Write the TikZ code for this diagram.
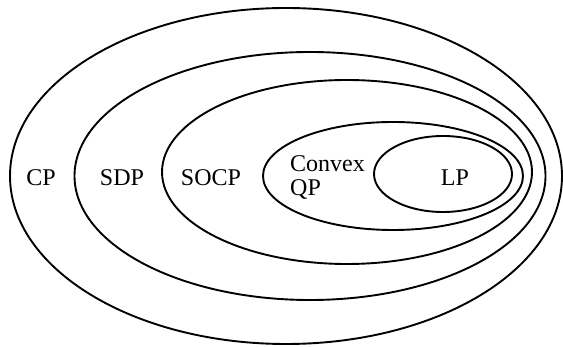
\documentclass[tikz,border=0pt]{standalone}
\usepackage{fontspec}
\setmainfont{Liberation Serif}

\begin{document}
\begin{tikzpicture}[x=1pt, y=-1pt,
    set/.style={black, line width=1.9pt},
    lbl/.style={inner sep=0pt, anchor=base, font=\fontsize{24}{24}\selectfont}]
    \useasboundingbox (0,0) rectangle (563,347);
    \draw[set] (286,176) ellipse (276 and 168);
    \draw[set] (310,176) ellipse (235.5 and 124);
    \draw[set] (347,172) ellipse (185 and 92);
    \draw[set] (393,176) ellipse (130 and 54);
    \draw[set] (443,174) ellipse (69 and 38);
    \node[lbl] (cp) at (41,186) {CP};
    \node[lbl] (sdp) at (122,186) {SDP};
    \node[lbl] (socp) at (211,186) {SOCP};
    \node[lbl, anchor=base west] (cvx) at (290,172) {Convex};
    \node[lbl, anchor=base west] (qp) at (290,196) {QP};
    \node[lbl] (lp) at (455,186) {LP};
\end{tikzpicture}
\end{document}
